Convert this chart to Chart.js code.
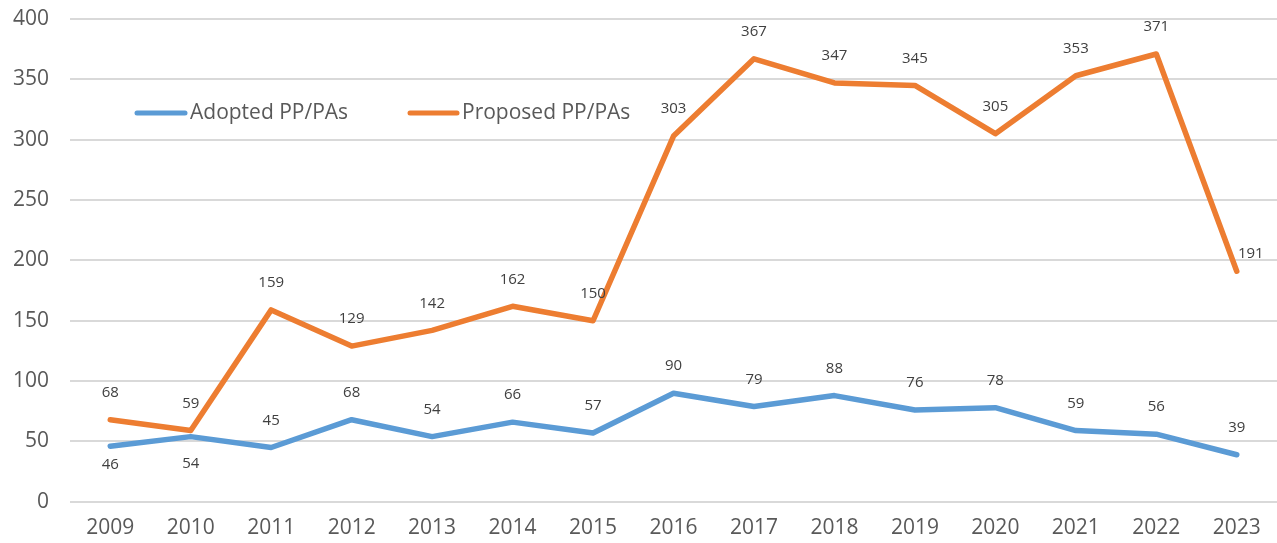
<!DOCTYPE html>
<html>
<head>
<meta charset="utf-8">
<script src="https://cdn.jsdelivr.net/npm/chart.js@4/dist/chart.umd.min.js"></script>
<style>
  html, body { margin: 0; padding: 0; background: #ffffff; }
  #wrap { width: 1277px; height: 543px; }
</style>
</head>
<body>
<div id="wrap"><canvas id="c" width="1277" height="543"></canvas></div>
<script>
const years = ['2009','2010','2011','2012','2013','2014','2015','2016','2017','2018','2019','2020','2021','2022','2023'];
const adopted = [46, 54, 45, 68, 54, 66, 57, 90, 79, 88, 76, 78, 59, 56, 39];
const proposed = [68, 59, 159, 129, 142, 162, 150, 303, 367, 347, 345, 305, 353, 371, 191];
const seriesNames = ['Adopted PP/PAs', 'Proposed PP/PAs'];
const yTicks = [0, 50, 100, 150, 200, 250, 300, 350, 400];

const FONT = '"Open Sans", "Liberation Sans", sans-serif';
const colors = ['#5B9BD5', '#ED7D31'];

const labelPlugin = {
  id: 'pointLabels',
  afterDatasetsDraw(chart) {
    const ctx = chart.ctx;
    ctx.save();
    ctx.font = '15px ' + FONT;
    ctx.fillStyle = '#404040';
    ctx.textAlign = 'center';
    ctx.textBaseline = 'middle';
    chart.data.datasets.forEach((ds, di) => {
      const meta = chart.getDatasetMeta(di);
      meta.data.forEach((pt, i) => {
        let dx = 0, dy = -27;
        if (di === 0 && i === 0) dy = 18;
        if (di === 0 && i === 1) dy = 27;
        if (di === 1 && i === ds.data.length - 1) { dx = 14; dy = -18; }
        ctx.fillText(String(ds.data[i]), pt.x + dx, pt.y + dy);
      });
    });
    ctx.restore();
  }
};

const legendPlugin = {
  id: 'insideLegend',
  afterDraw(chart) {
    const ctx = chart.ctx;
    const items = [
      { x1: 137, x2: 185, tx: 190 },
      { x1: 410, x2: 457, tx: 462 }
    ];
    const y = 113;
    ctx.save();
    ctx.font = '21px ' + FONT;
    ctx.textBaseline = 'middle';
    ctx.textAlign = 'left';
    items.forEach((it, k) => {
      ctx.strokeStyle = colors[k];
      ctx.lineWidth = 5;
      ctx.lineCap = 'round';
      ctx.beginPath();
      ctx.moveTo(it.x1, y);
      ctx.lineTo(it.x2, y);
      ctx.stroke();
      ctx.fillStyle = '#595959';
      ctx.fillText(chart.data.datasets[k].label, it.tx, y);
    });
    ctx.restore();
  }
};

new Chart(document.getElementById('c'), {
  type: 'line',
  data: {
    labels: years,
    datasets: [
      { label: seriesNames[0], data: adopted, borderColor: colors[0], backgroundColor: colors[0], borderWidth: 5.5, pointRadius: 0, tension: 0, borderJoinStyle: 'round', borderCapStyle: 'round' },
      { label: seriesNames[1], data: proposed, borderColor: colors[1], backgroundColor: colors[1], borderWidth: 5.5, pointRadius: 0, tension: 0, borderJoinStyle: 'round', borderCapStyle: 'round' }
    ]
  },
  options: {
    responsive: false,
    animation: false,
    layout: { padding: { top: 0, right: 0, bottom: -12, left: -8 } },
    plugins: { legend: { display: false }, tooltip: { enabled: false } },
    scales: {
      x: {
        offset: true,
        grid: { display: false, drawTicks: false },
        border: { display: false },
        ticks: { color: '#595959', font: { family: FONT, size: 21 }, padding: 14, maxRotation: 0 }
      },
      y: {
        min: 0, max: 400,
        afterBuildTicks(axis) { axis.ticks = yTicks.map(v => ({ value: v })); },
        afterFit(scale) { scale.paddingTop = 19; scale.paddingBottom = 13; },
        grid: { color: '#D9D9D9', lineWidth: 2, drawTicks: false },
        border: { display: false },
        ticks: { color: '#595959', font: { family: FONT, size: 21 }, padding: 21 }
      }
    }
  },
  plugins: [labelPlugin, legendPlugin]
});
</script>
</body>
</html>
